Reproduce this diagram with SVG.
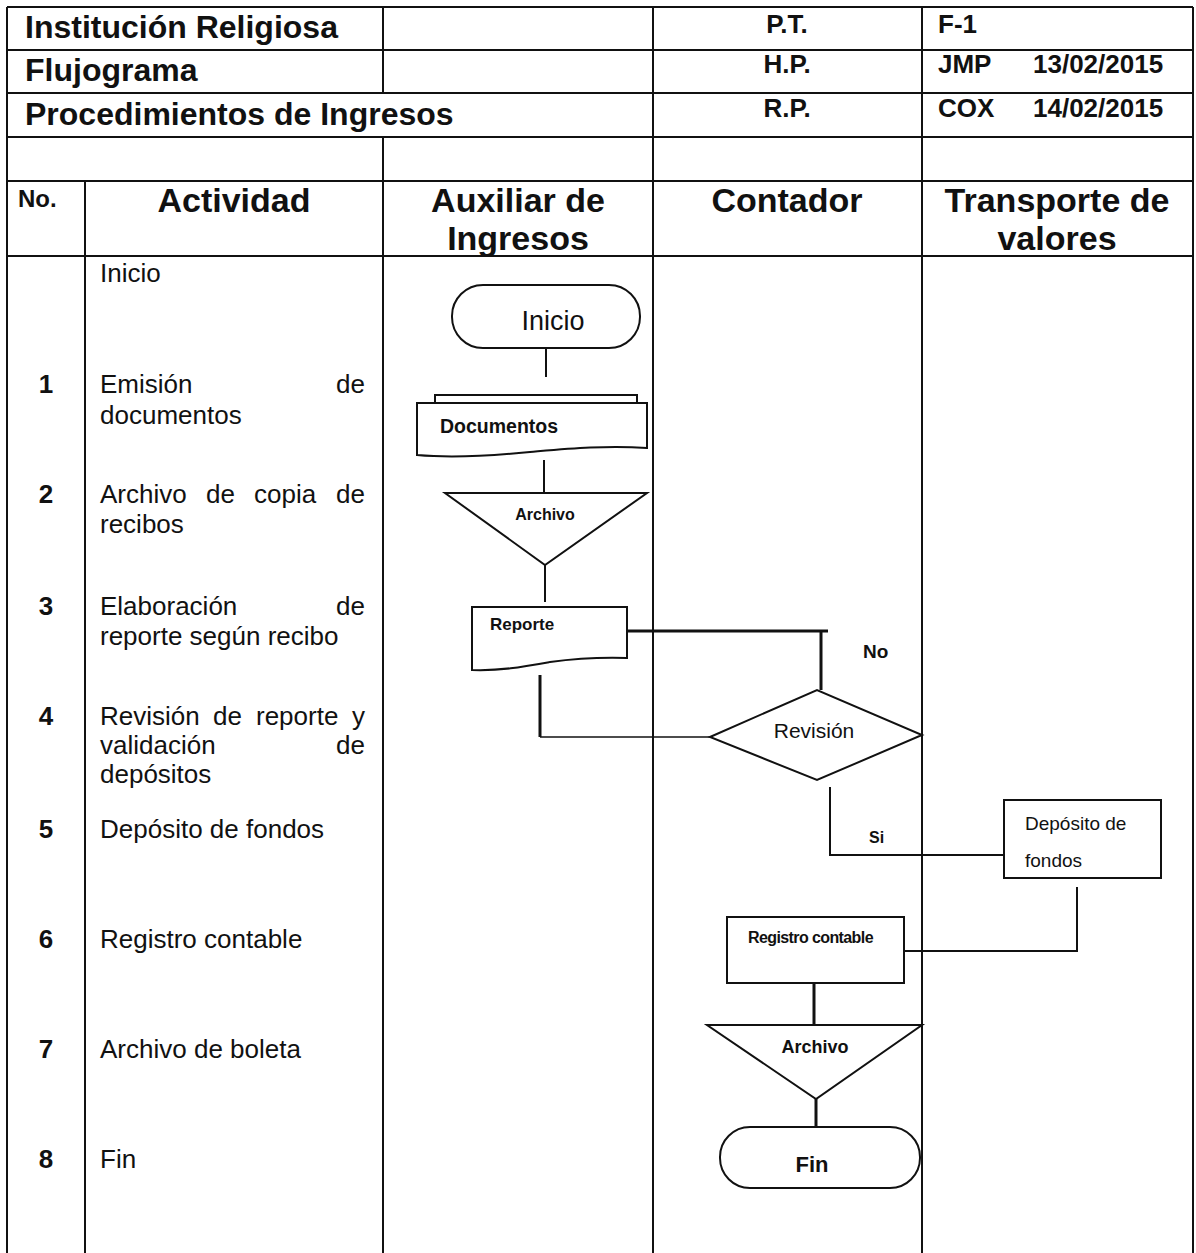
<svg xmlns="http://www.w3.org/2000/svg" width="1196" height="1253" viewBox="0 0 1196 1253">
  <style>
    text { font-family: "Liberation Sans", Arial, sans-serif; fill: #111; }
    .title { font-size: 32px; font-weight: bold; }
    .meta { font-size: 26px; font-weight: bold; }
    .head { font-size: 34px; font-weight: bold; text-anchor: middle; }
    .no { font-size: 24px; font-weight: bold; }
    .body { font-size: 26px; }
    .num { font-size: 26px; font-weight: bold; text-anchor: middle; }
    .end { text-anchor: end; }
    .mid { text-anchor: middle; }
    .grid line { stroke: #111; stroke-width: 2; }
    .shape { fill: #fff; stroke: #111; stroke-width: 2; stroke-linejoin: miter; }
    .conn { fill: none; stroke: #111; stroke-width: 2; }
    .heavy { stroke-width: 3; }
    .thin { stroke-width: 1.5; }
    .lbl { font-size: 16px; font-weight: bold; }
  </style>

  <rect width="1196" height="1253" fill="#fff"/>

  <!-- table grid -->
  <g id="grid" class="grid">
    <line x1="7" y1="7" x2="1193" y2="7"/>
    <line x1="7" y1="50" x2="1193" y2="50"/>
    <line x1="7" y1="93" x2="1193" y2="93"/>
    <line x1="7" y1="137" x2="1193" y2="137"/>
    <line x1="7" y1="181" x2="1193" y2="181"/>
    <line x1="7" y1="256" x2="1193" y2="256"/>
    <line x1="7" y1="7" x2="7" y2="1253"/>
    <line x1="1193" y1="7" x2="1193" y2="1253"/>
    <line x1="85" y1="181" x2="85" y2="1253"/>
    <line x1="383" y1="7" x2="383" y2="93"/>
    <line x1="383" y1="137" x2="383" y2="1253"/>
    <line x1="653" y1="7" x2="653" y2="1253"/>
    <line x1="922" y1="7" x2="922" y2="1253"/>
  </g>

  <!-- title block -->
  <g id="title-block">
    <text class="title" x="25" y="38">Institución Religiosa</text>
    <text class="title" x="25" y="81">Flujograma</text>
    <text class="title" x="25" y="125">Procedimientos de Ingresos</text>
    <text class="meta mid" x="787" y="33">P.T.</text>
    <text class="meta mid" x="787" y="73">H.P.</text>
    <text class="meta mid" x="787" y="117">R.P.</text>
    <text class="meta" x="938" y="33">F-1</text>
    <text class="meta" x="938" y="73">JMP</text>
    <text class="meta" x="1033" y="73">13/02/2015</text>
    <text class="meta" x="938" y="117">COX</text>
    <text class="meta" x="1033" y="117">14/02/2015</text>
  </g>

  <!-- column headers -->
  <g id="column-headers">
    <text class="no" x="18" y="207">No.</text>
    <text class="head" x="234" y="212">Actividad</text>
    <text class="head" x="518" y="212">Auxiliar de</text>
    <text class="head" x="518" y="250">Ingresos</text>
    <text class="head" x="787" y="212">Contador</text>
    <text class="head" x="1057" y="212">Transporte de</text>
    <text class="head" x="1057" y="250">valores</text>
  </g>

  <!-- activity list (justified lines set word by word) -->
  <g id="activities">
    <g id="act-0">
      <text class="body" x="100" y="282">Inicio</text>
    </g>
    <g id="act-1">
      <text class="num" x="46" y="393">1</text>
      <text class="body" x="100" y="393">Emisión</text>
      <text class="body end" x="365" y="393">de</text>
      <text class="body" x="100" y="424">documentos</text>
    </g>
    <g id="act-2">
      <text class="num" x="46" y="503">2</text>
      <text class="body" x="100" y="503">Archivo</text>
      <text class="body" x="206" y="503">de</text>
      <text class="body" x="254" y="503">copia</text>
      <text class="body end" x="365" y="503">de</text>
      <text class="body" x="100" y="533">recibos</text>
    </g>
    <g id="act-3">
      <text class="num" x="46" y="615">3</text>
      <text class="body" x="100" y="615">Elaboración</text>
      <text class="body end" x="365" y="615">de</text>
      <text class="body" x="100" y="645">reporte según recibo</text>
    </g>
    <g id="act-4">
      <text class="num" x="46" y="725">4</text>
      <text class="body" x="100" y="725">Revisión</text>
      <text class="body" x="213" y="725">de</text>
      <text class="body" x="256" y="725">reporte</text>
      <text class="body end" x="365" y="725">y</text>
      <text class="body" x="100" y="754">validación</text>
      <text class="body end" x="365" y="754">de</text>
      <text class="body" x="100" y="783">depósitos</text>
    </g>
    <g id="act-5">
      <text class="num" x="46" y="838">5</text>
      <text class="body" x="100" y="838">Depósito de fondos</text>
    </g>
    <g id="act-6">
      <text class="num" x="46" y="948">6</text>
      <text class="body" x="100" y="948">Registro contable</text>
    </g>
    <g id="act-7">
      <text class="num" x="46" y="1058">7</text>
      <text class="body" x="100" y="1058">Archivo de boleta</text>
    </g>
    <g id="act-8">
      <text class="num" x="46" y="1168">8</text>
      <text class="body" x="100" y="1168">Fin</text>
    </g>
  </g>

  <!-- connectors -->
  <g id="connectors">
    <line class="conn" x1="546" y1="348" x2="546" y2="377"/>
    <line class="conn" x1="544" y1="460" x2="544" y2="493"/>
    <line class="conn" x1="545" y1="565" x2="545" y2="602"/>
    <line class="conn heavy" x1="627" y1="631" x2="828" y2="631"/>
    <line class="conn heavy" x1="821" y1="631" x2="821" y2="690"/>
    <line class="conn heavy" x1="540" y1="675" x2="540" y2="737"/>
    <line class="conn thin" x1="540" y1="737" x2="710" y2="737"/>
    <polyline class="conn" points="830,787 830,855 1004,855"/>
    <polyline class="conn" points="1077,887 1077,951 904,951"/>
    <line class="conn heavy" x1="814" y1="983" x2="814" y2="1025"/>
    <line class="conn heavy" x1="816" y1="1099" x2="816" y2="1127"/>
    <text class="meta" x="863" y="658" style="font-size:19px">No</text>
    <text class="lbl" x="869" y="843">Si</text>
  </g>

  <!-- flowchart nodes -->
  <g id="inicio">
    <rect class="shape" x="452" y="285" width="188" height="63" rx="31" ry="31"/>
    <text class="mid" x="553" y="330" style="font-size:27px">Inicio</text>
  </g>

  <g id="documentos">
    <polyline class="shape" fill="none" points="435,403 435,395 637,395 637,403"/>
    <path class="shape" d="M417,403 H647 V448 C605,445 565,449 530,452 C490,456 450,458 417,455 Z"/>
    <text x="440" y="433" style="font-size:19.5px;font-weight:bold">Documentos</text>
  </g>

  <g id="archivo-recibos">
    <polygon class="shape" points="445,493 647,493 545,565"/>
    <text class="lbl mid" x="545" y="520">Archivo</text>
  </g>

  <g id="reporte">
    <path class="shape" d="M472,607 H627 V658 C595,657 572,659 550,662 C522,667 500,671 472,670 Z"/>
    <text class="lbl" x="490" y="630" style="font-size:17px">Reporte</text>
  </g>

  <g id="revision">
    <polygon class="shape" points="710,737 817,690 922,735 817,780"/>
    <text class="mid" x="814" y="738" style="font-size:21px">Revisión</text>
  </g>

  <g id="deposito">
    <rect class="shape" x="1004" y="800" width="157" height="78"/>
    <text x="1025" y="830" style="font-size:19px">Depósito de</text>
    <text x="1025" y="867" style="font-size:19px">fondos</text>
  </g>

  <g id="registro">
    <rect class="shape" x="727" y="917" width="177" height="66"/>
    <text class="lbl" x="748" y="943" style="letter-spacing:-0.6px">Registro contable</text>
  </g>

  <g id="archivo-boleta">
    <polygon class="shape" points="707,1025 922,1025 816,1099"/>
    <text class="lbl mid" x="815" y="1053" style="font-size:18px">Archivo</text>
  </g>

  <g id="fin">
    <rect class="shape" x="720" y="1127" width="200" height="61" rx="30" ry="30"/>
    <text class="mid" x="812" y="1172" style="font-size:22px;font-weight:bold">Fin</text>
  </g>
</svg>
